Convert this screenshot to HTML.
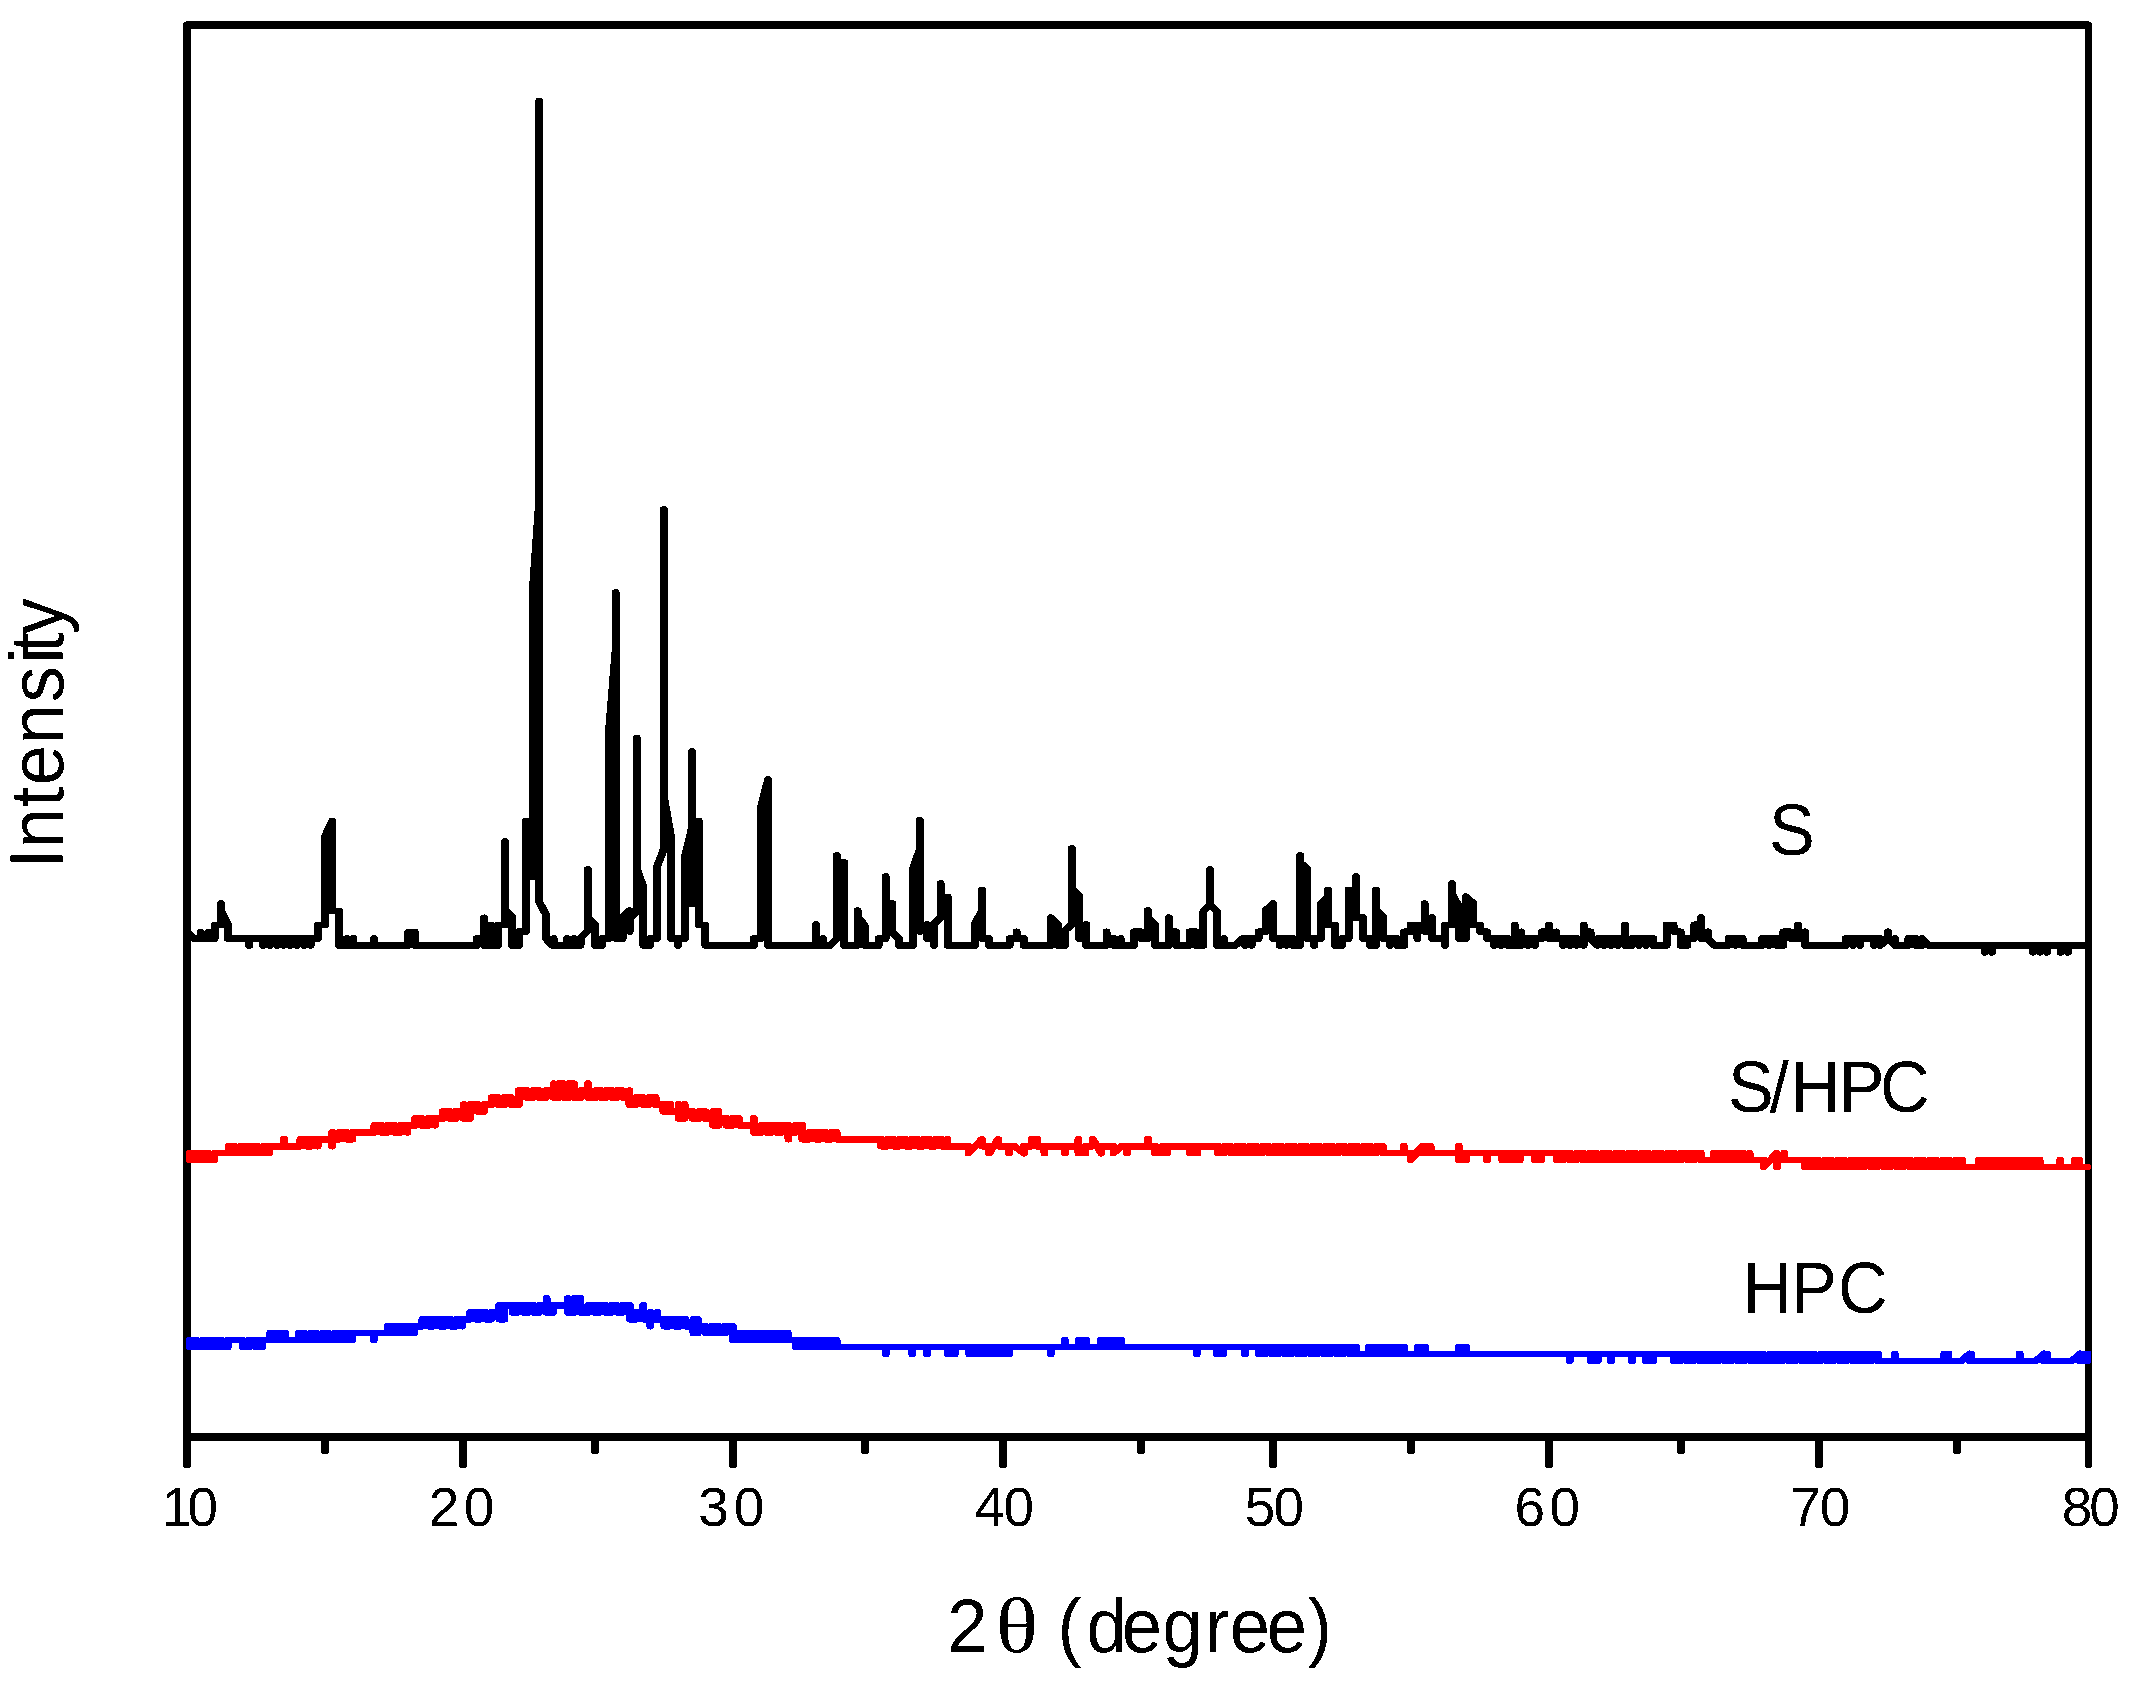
<!DOCTYPE html>
<html><head><meta charset="utf-8"><title>XRD patterns</title>
<style>
html,body{margin:0;padding:0;background:#fff}
svg{display:block}
text{font-family:"Liberation Sans",sans-serif;fill:#000;white-space:pre}
.sym{font-family:"Liberation Serif",serif}
</style></head>
<body>
<svg width="2131" height="1681" viewBox="0 0 2131 1681">
<defs><filter id="bw" filterUnits="userSpaceOnUse" x="0" y="0" width="2131" height="1681" color-interpolation-filters="sRGB"><feComponentTransfer><feFuncA type="discrete" tableValues="0 1"/></feComponentTransfer></filter></defs>
<rect width="2131" height="1681" fill="#fff"/>
<g fill="#000" shape-rendering="crispEdges">
<rect x="183" y="21" width="1909" height="8"/>
<rect x="183" y="1433" width="1909" height="8"/>
<rect x="183" y="21" width="8" height="1447" rx="2.5"/>
<rect x="2085" y="21" width="7" height="1447" rx="2.5"/>
<rect x="183" y="21" width="8" height="100"/>
<rect x="2085" y="21" width="7" height="100"/>
<path d="M183 21h3.4l-3.4 2.4zM2092 21h-3.4l3.4 2.4z" fill="#fff"/>
<rect x="459" y="1437" width="8" height="31" rx="2.5"/><rect x="729" y="1437" width="8" height="31" rx="2.5"/><rect x="999" y="1437" width="8" height="31" rx="2.5"/><rect x="1269" y="1437" width="8" height="31" rx="2.5"/><rect x="1545" y="1437" width="8" height="31" rx="2.5"/><rect x="1815" y="1437" width="8" height="31" rx="2.5"/><rect x="321" y="1437" width="8" height="17" rx="2.5"/><rect x="591" y="1437" width="8" height="17" rx="2.5"/><rect x="861" y="1437" width="8" height="17" rx="2.5"/><rect x="1137" y="1437" width="8" height="17" rx="2.5"/><rect x="1407" y="1437" width="8" height="17" rx="2.5"/><rect x="1677" y="1437" width="8" height="17" rx="2.5"/><rect x="1953" y="1437" width="8" height="17" rx="2.5"/>
</g>
<g transform="scale(1.185,1)" fill="none" stroke-width="6.75" stroke-linejoin="round" stroke-linecap="round" shape-rendering="crispEdges">
<polyline stroke="#000" points="157.8,931.9 163.4,938.5 169.4,938.5 169.4,932.2 169.4,938.5 175.7,938.5 175.7,932.2 175.7,938.5 181.1,938.5 181.1,925.1 186.6,925.1 186.6,903.7 186.6,910.4 192.3,924.4 192.3,938.5 207.7,938.5 210.3,938.5 210.3,945.4 210.3,938.5 222.2,938.5 222.2,945.4 222.2,938.5 227.9,938.5 227.9,945.4 227.9,938.5 233.6,938.5 233.6,945.4 233.6,938.5 239.3,938.5 239.3,945.4 239.3,938.5 245.0,938.5 245.0,945.4 245.0,938.5 250.7,938.5 250.7,945.4 250.7,938.5 256.4,938.5 256.4,945.4 256.4,938.5 262.1,938.5 262.1,945.4 262.1,938.5 268.3,938.5 268.3,925.1 274.3,925.1 274.3,836.5 280.3,821.0 280.3,911.1 286.3,911.1 286.3,945.4 292.7,945.4 292.7,938.5 292.7,945.4 298.3,945.4 298.3,938.5 298.3,945.4 315.6,945.4 315.6,938.5 315.6,945.4 344.5,945.4 344.5,932.2 350.1,932.2 350.1,945.4 399.5,945.4 402.4,945.4 402.4,938.5 408.6,938.5 408.6,917.8 408.6,945.4 414.6,945.4 414.6,924.9 414.6,945.4 420.3,945.4 420.3,924.9 426.2,924.9 426.2,841.4 426.2,909.7 432.1,916.7 432.1,945.4 438.1,945.4 438.1,931.5 443.8,931.5 443.8,821.0 449.4,876.6 449.4,595.5 455.1,500.0 455.1,101.0 455.1,901.9 460.9,915.0 460.9,938.9 466.0,945.4 467.2,945.4 467.2,938.5 467.2,945.4 478.5,945.4 478.5,938.5 478.5,945.4 484.2,945.4 484.2,938.5 484.2,945.4 489.9,945.4 489.9,937.8 496.1,930.8 496.1,869.5 496.1,917.4 502.2,924.4 502.2,945.4 507.9,945.4 507.9,938.5 513.8,938.5 513.8,733.0 519.5,651.0 519.5,592.5 519.5,938.5 525.4,938.5 525.4,917.4 531.3,910.6 531.3,931.5 531.3,918.8 537.3,911.8 537.3,738.0 537.3,868.8 543.0,887.1 543.0,945.4 548.6,945.4 548.6,938.5 554.5,938.5 554.5,866.7 560.2,849.1 560.2,509.5 560.2,796.3 566.4,837.9 566.4,938.5 572.1,938.5 572.1,945.4 572.1,938.5 577.9,938.5 577.9,857.6 583.9,828.0 583.9,751.7 583.9,904.0 589.6,821.0 589.6,925.1 595.3,925.1 595.3,945.4 636.1,945.4 636.1,938.5 642.1,938.5 642.1,807.6 648.2,779.5 648.2,945.4 688.6,945.4 688.6,924.4 688.6,945.4 694.6,945.4 694.6,938.5 694.6,945.4 700.5,945.4 706.2,938.5 706.2,855.5 706.2,862.5 712.4,862.5 712.4,945.4 723.7,945.4 723.7,910.6 723.7,917.4 729.6,924.9 729.6,945.4 741.5,945.4 741.5,938.5 747.4,938.5 747.4,876.6 747.4,903.6 753.0,903.6 753.0,932.2 758.7,938.9 758.7,945.4 770.4,945.4 770.4,868.8 776.3,849.1 776.3,820.3 776.3,931.5 782.2,924.4 782.2,938.5 788.2,938.5 788.2,945.4 788.2,923.7 793.8,917.4 793.8,883.6 793.8,897.0 799.7,897.0 799.7,945.4 822.6,945.4 822.6,923.7 828.6,911.1 828.6,890.0 828.6,938.5 834.5,938.5 834.5,945.4 852.0,945.4 852.0,938.5 857.9,938.5 857.9,931.8 857.9,938.5 863.9,938.5 863.9,945.4 886.9,945.4 886.9,917.7 892.6,924.4 892.6,945.4 898.5,945.4 898.5,930.8 904.5,924.4 904.5,848.4 904.5,888.5 910.7,896.3 910.7,938.5 916.6,938.5 916.6,924.4 916.6,945.4 933.8,945.4 933.8,931.8 933.8,938.5 939.8,938.5 939.8,945.4 945.7,945.4 945.7,938.5 945.7,945.4 957.0,945.4 957.0,931.8 962.9,931.8 962.9,938.5 968.6,938.5 968.6,910.6 968.6,917.4 974.8,924.4 974.8,945.4 986.3,945.4 986.3,917.7 986.3,931.8 992.4,931.8 992.4,945.4 1003.9,945.4 1003.9,931.8 1009.5,931.8 1009.5,945.4 1015.6,945.4 1015.6,911.1 1021.1,904.7 1021.1,869.5 1021.1,904.7 1027.1,911.4 1027.1,945.4 1033.0,945.4 1033.0,938.5 1033.0,945.4 1042.5,945.4 1048.5,938.5 1050.5,938.5 1050.5,945.4 1050.5,938.5 1056.2,938.5 1056.2,945.4 1056.2,938.5 1062.1,938.5 1062.1,931.8 1068.1,931.8 1068.1,910.4 1074.2,903.6 1074.2,938.5 1079.9,938.5 1079.9,945.4 1079.9,938.5 1085.7,938.5 1085.7,945.4 1085.7,938.5 1091.2,938.5 1091.2,945.4 1097.2,945.4 1097.2,855.5 1097.2,862.5 1103.1,869.1 1103.1,938.5 1109.1,938.5 1109.1,945.4 1109.1,938.5 1114.6,938.5 1114.6,904.0 1120.6,897.0 1120.6,890.0 1120.6,925.1 1126.5,925.1 1126.5,945.4 1132.4,945.4 1132.4,938.5 1138.0,938.5 1138.0,890.0 1144.2,890.0 1144.2,876.6 1144.2,918.1 1150.3,917.7 1150.3,938.5 1156.1,938.5 1156.1,945.4 1161.2,945.4 1161.2,890.0 1161.2,909.7 1167.1,916.7 1167.1,938.5 1173.1,938.5 1173.1,945.4 1173.1,938.5 1179.0,938.5 1179.0,945.4 1185.0,945.4 1185.0,931.8 1190.3,931.8 1190.3,924.9 1190.3,931.8 1196.2,931.8 1196.2,938.5 1196.2,924.9 1196.2,926.8 1202.2,926.8 1202.2,903.6 1202.2,931.5 1208.4,931.5 1208.4,917.7 1208.4,938.5 1214.1,938.5 1219.4,938.5 1219.4,945.4 1219.4,924.9 1225.4,924.9 1225.4,883.6 1225.4,894.2 1231.3,906.8 1231.3,938.5 1237.2,938.5 1237.2,896.7 1243.2,903.3 1243.2,925.1 1249.1,925.1 1249.1,931.8 1255.1,931.8 1255.1,938.5 1261.0,938.5 1261.0,945.4 1261.0,938.5 1266.7,938.5 1266.7,945.4 1266.7,938.5 1272.4,938.5 1272.4,945.4 1278.2,945.4 1278.2,924.9 1278.2,945.4 1283.8,945.4 1283.8,931.8 1283.8,938.5 1289.5,938.5 1289.5,945.4 1289.5,938.5 1295.2,938.5 1295.2,945.4 1295.2,938.5 1301.4,938.5 1301.4,931.8 1307.3,931.8 1307.3,924.9 1307.3,938.5 1313.3,938.5 1313.3,931.8 1313.3,938.5 1319.0,938.5 1319.0,945.4 1319.0,938.5 1324.7,938.5 1324.7,945.4 1324.7,938.5 1330.4,938.5 1330.4,945.4 1330.4,938.5 1336.4,945.4 1336.4,924.9 1336.4,931.8 1342.2,931.8 1342.2,938.5 1348.2,945.4 1348.2,938.5 1353.8,938.5 1353.8,945.4 1353.8,938.5 1359.5,938.5 1359.5,945.4 1359.5,938.5 1365.2,938.5 1365.2,945.4 1365.2,938.5 1371.3,938.5 1371.3,924.9 1371.3,945.4 1377.3,945.4 1377.3,938.5 1383.2,938.5 1383.2,945.4 1383.2,938.5 1389.2,938.5 1389.2,945.4 1389.2,938.5 1395.1,938.5 1395.1,945.4 1406.4,945.4 1406.4,924.9 1412.3,924.9 1412.3,931.5 1418.3,931.8 1418.3,945.4 1423.9,945.4 1423.9,938.5 1429.6,938.5 1429.6,924.9 1435.5,923.0 1435.5,917.7 1435.5,938.5 1441.4,938.5 1441.4,931.8 1441.4,939.2 1446.8,945.4 1458.7,945.4 1458.7,938.5 1464.6,938.5 1464.6,945.4 1464.6,938.5 1470.5,938.5 1470.5,945.4 1487.2,945.4 1487.2,938.5 1493.1,938.5 1493.1,945.4 1493.1,938.5 1499.1,938.5 1499.1,945.4 1505.0,945.4 1505.0,931.8 1511.2,931.8 1511.2,938.5 1517.1,938.5 1517.1,924.9 1517.1,938.5 1523.1,938.5 1523.1,931.8 1523.1,945.4 1554.7,945.4 1557.6,945.4 1557.6,938.5 1563.6,938.5 1563.6,945.4 1563.6,938.5 1569.5,938.5 1569.5,945.4 1569.5,938.5 1575.4,938.5 1581.4,938.5 1581.4,945.4 1581.4,938.5 1586.7,938.5 1586.7,945.4 1593.3,939.2 1593.3,931.8 1593.3,939.2 1599.2,945.4 1599.2,938.5 1599.2,945.4 1607.5,945.4 1610.5,945.4 1610.5,938.5 1616.4,938.5 1616.4,945.4 1621.8,945.4 1621.8,938.5 1627.1,945.4 1674.9,945.4 1674.9,952.3 1674.9,945.4 1680.8,945.4 1680.8,952.3 1680.8,945.4 1715.6,945.4 1715.6,952.3 1715.6,945.4 1721.6,945.4 1721.6,952.3 1721.6,945.4 1727.3,945.4 1727.3,952.3 1727.3,945.4 1739.0,945.4 1739.0,952.3 1739.0,945.4 1745.0,945.4 1745.0,952.3 1745.0,945.4 1760.8,945.4"/>
<polyline stroke="#f00" points="160.3,1160.0 160.3,1153.1 165.5,1153.1 165.5,1160.0 170.7,1160.0 170.7,1153.1 175.8,1153.1 175.8,1160.0 181.0,1160.0 181.0,1153.1 187.1,1153.1 193.2,1153.1 193.2,1146.2 198.1,1146.2 198.1,1153.1 202.9,1153.1 202.9,1146.2 207.7,1146.2 207.7,1153.1 212.5,1153.1 212.5,1146.2 217.4,1146.2 217.4,1153.1 222.2,1153.1 222.2,1146.2 227.0,1146.2 227.0,1153.1 227.0,1146.2 233.5,1146.2 239.6,1146.2 239.6,1139.2 239.6,1146.2 245.9,1146.2 246.8,1146.2 253.5,1146.2 253.5,1139.2 258.4,1139.2 258.4,1146.2 263.2,1146.2 263.2,1139.2 268.1,1139.2 268.1,1146.2 268.1,1139.2 274.4,1139.2 280.4,1139.2 280.4,1132.3 280.4,1146.2 280.4,1139.2 286.8,1139.2 286.8,1132.3 292.1,1132.3 292.1,1139.2 297.4,1139.2 297.4,1132.3 304.1,1132.3 309.3,1132.3 316.0,1132.3 316.0,1125.3 321.6,1125.3 321.6,1132.3 327.1,1132.3 327.1,1125.3 332.6,1125.3 332.6,1132.3 338.2,1132.3 338.2,1125.3 343.7,1125.3 343.7,1132.3 343.7,1125.3 350.5,1125.3 350.5,1118.4 356.0,1118.4 356.0,1125.3 361.5,1125.3 361.5,1118.4 367.1,1118.4 367.1,1125.3 367.1,1118.4 373.8,1118.4 373.8,1111.4 379.2,1111.4 379.2,1118.4 384.6,1118.4 384.6,1111.4 391.3,1111.4 391.3,1104.5 391.3,1118.4 396.5,1118.4 396.5,1104.5 403.2,1104.5 403.2,1111.4 408.3,1111.4 408.3,1104.5 415.0,1104.5 415.0,1097.5 420.4,1097.5 420.4,1104.5 425.8,1104.5 425.8,1097.5 431.2,1097.5 431.2,1104.5 437.8,1104.5 437.8,1090.6 444.4,1090.6 444.4,1097.5 449.8,1097.5 449.8,1090.6 455.2,1090.6 455.2,1097.5 460.6,1097.5 460.6,1090.6 467.3,1090.6 467.3,1083.7 467.3,1097.5 471.6,1097.5 471.6,1083.7 475.8,1083.7 475.8,1097.5 480.0,1097.5 480.0,1083.7 484.2,1083.7 484.2,1097.5 490.4,1097.5 490.4,1090.6 496.2,1090.6 496.2,1083.7 496.2,1097.5 502.5,1097.5 502.5,1090.6 507.1,1090.6 507.1,1097.5 511.7,1097.5 511.7,1090.6 516.3,1090.6 516.3,1097.5 520.8,1097.5 520.8,1090.6 525.4,1090.6 525.4,1097.5 531.2,1097.5 531.2,1090.6 531.2,1104.5 537.0,1104.5 537.0,1097.5 542.4,1097.5 542.4,1104.5 547.8,1104.5 547.8,1097.5 553.2,1097.5 553.2,1104.5 559.9,1104.5 559.9,1111.4 562.9,1111.4 562.9,1104.5 565.8,1104.5 565.8,1111.4 572.6,1111.4 572.6,1104.5 572.6,1118.4 577.7,1118.4 577.7,1104.5 577.7,1111.4 584.5,1111.4 584.5,1118.4 589.8,1118.4 589.8,1111.4 595.1,1111.4 595.1,1118.4 601.9,1118.4 601.9,1111.4 601.9,1125.3 606.2,1125.3 606.2,1111.4 606.2,1118.4 613.0,1118.4 613.0,1125.3 618.3,1125.3 618.3,1118.4 623.6,1118.4 623.6,1125.3 630.2,1125.3 636.1,1125.3 636.1,1118.4 636.1,1132.3 642.3,1132.3 642.3,1125.3 646.5,1125.3 646.5,1132.3 650.8,1132.3 650.8,1125.3 655.0,1125.3 655.0,1132.3 659.2,1132.3 659.2,1125.3 665.4,1125.3 665.4,1139.2 665.4,1132.3 671.1,1132.3 671.1,1125.3 677.1,1125.3 677.1,1139.2 683.5,1139.2 683.5,1132.3 688.0,1132.3 688.0,1139.2 692.5,1139.2 692.5,1132.3 697.0,1132.3 697.0,1139.2 701.5,1139.2 701.5,1132.3 706.0,1132.3 706.0,1139.2 712.7,1139.2 717.6,1139.2 722.4,1139.2 727.2,1139.2 732.1,1139.2 736.9,1139.2 743.6,1139.2 743.6,1146.2 748.7,1146.2 748.7,1139.2 753.8,1139.2 753.8,1146.2 758.9,1146.2 758.9,1139.2 763.9,1139.2 763.9,1146.2 769.0,1146.2 769.0,1139.2 774.1,1139.2 774.1,1146.2 779.2,1146.2 779.2,1139.2 784.3,1139.2 784.3,1146.2 789.3,1146.2 789.3,1139.2 794.4,1139.2 794.4,1146.2 799.5,1146.2 799.5,1139.2 799.5,1146.2 806.2,1146.2 811.0,1146.2 817.3,1146.2 817.3,1153.1 828.7,1139.2 828.7,1146.2 834.8,1146.2 834.8,1153.1 842.4,1139.2 842.4,1146.2 846.2,1146.2 851.5,1146.2 851.5,1153.1 851.5,1146.2 855.9,1146.2 864.1,1153.1 864.1,1146.2 870.5,1146.2 870.5,1139.2 875.1,1139.2 875.1,1146.2 881.4,1146.2 881.4,1153.1 881.4,1146.2 887.8,1146.2 892.6,1146.2 898.9,1146.2 898.9,1153.1 898.9,1146.2 904.5,1146.2 910.1,1146.2 910.1,1139.2 910.1,1153.1 916.0,1153.1 916.0,1146.2 922.2,1146.2 922.2,1139.2 929.3,1153.1 929.3,1146.2 933.3,1146.2 939.7,1146.2 939.7,1153.1 946.2,1146.2 951.1,1146.2 951.1,1153.1 951.1,1146.2 957.4,1146.2 962.4,1146.2 968.8,1146.2 968.8,1139.2 968.8,1146.2 974.7,1146.2 974.7,1153.1 981.0,1153.1 981.0,1146.2 984.8,1146.2 984.8,1153.1 984.8,1146.2 991.6,1146.2 994.5,1146.2 997.5,1146.2 1004.2,1146.2 1004.2,1153.1 1007.4,1153.1 1007.4,1146.2 1010.5,1146.2 1010.5,1153.1 1010.5,1146.2 1017.3,1146.2 1021.1,1146.2 1027.8,1146.2 1027.8,1153.1 1033.2,1153.1 1033.2,1146.2 1038.5,1146.2 1038.5,1153.1 1043.9,1153.1 1043.9,1146.2 1049.2,1146.2 1049.2,1153.1 1054.6,1153.1 1054.6,1146.2 1059.9,1146.2 1059.9,1153.1 1065.2,1153.1 1065.2,1146.2 1070.6,1146.2 1070.6,1153.1 1075.9,1153.1 1075.9,1146.2 1081.3,1146.2 1081.3,1153.1 1086.6,1153.1 1086.6,1146.2 1092.0,1146.2 1092.0,1153.1 1097.3,1153.1 1097.3,1146.2 1102.6,1146.2 1102.6,1153.1 1108.0,1153.1 1108.0,1146.2 1113.3,1146.2 1113.3,1153.1 1118.7,1153.1 1118.7,1146.2 1124.0,1146.2 1124.0,1153.1 1129.4,1153.1 1129.4,1146.2 1134.7,1146.2 1134.7,1153.1 1140.0,1153.1 1140.0,1146.2 1145.4,1146.2 1145.4,1153.1 1150.7,1153.1 1150.7,1146.2 1156.1,1146.2 1156.1,1153.1 1161.4,1153.1 1161.4,1146.2 1166.8,1146.2 1166.8,1153.1 1173.5,1153.1 1178.6,1153.1 1184.7,1153.1 1184.7,1146.2 1184.7,1153.1 1190.6,1153.1 1190.6,1160.0 1200.0,1146.2 1200.0,1153.1 1203.6,1153.1 1203.6,1146.2 1207.2,1146.2 1207.2,1153.1 1213.9,1153.1 1219.2,1153.1 1224.5,1153.1 1231.1,1153.1 1231.1,1146.2 1231.1,1160.0 1237.0,1160.0 1237.0,1153.1 1243.0,1153.1 1248.1,1153.1 1254.8,1153.1 1254.8,1160.0 1254.8,1153.1 1261.2,1153.1 1267.8,1153.1 1267.8,1160.0 1272.7,1160.0 1272.7,1153.1 1277.6,1153.1 1277.6,1160.0 1282.4,1160.0 1282.4,1153.1 1289.0,1153.1 1295.5,1153.1 1295.5,1160.0 1300.7,1160.0 1300.7,1153.1 1307.2,1153.1 1313.8,1153.1 1313.8,1160.0 1319.3,1160.0 1319.3,1153.1 1324.8,1153.1 1324.8,1160.0 1330.3,1160.0 1330.3,1153.1 1335.8,1153.1 1335.8,1160.0 1341.4,1160.0 1341.4,1153.1 1346.9,1153.1 1346.9,1160.0 1352.4,1160.0 1352.4,1153.1 1357.9,1153.1 1357.9,1160.0 1363.4,1160.0 1363.4,1153.1 1369.0,1153.1 1369.0,1160.0 1374.5,1160.0 1374.5,1153.1 1380.0,1153.1 1380.0,1160.0 1385.5,1160.0 1385.5,1153.1 1391.0,1153.1 1391.0,1160.0 1396.6,1160.0 1396.6,1153.1 1402.1,1153.1 1402.1,1160.0 1407.6,1160.0 1407.6,1153.1 1413.1,1153.1 1413.1,1160.0 1418.6,1160.0 1418.6,1153.1 1424.2,1153.1 1424.2,1160.0 1429.7,1160.0 1429.7,1153.1 1435.2,1153.1 1435.2,1160.0 1440.8,1160.0 1446.4,1160.0 1446.4,1153.1 1451.4,1153.1 1451.4,1160.0 1456.4,1160.0 1456.4,1153.1 1461.4,1153.1 1461.4,1160.0 1466.4,1160.0 1466.4,1153.1 1471.4,1153.1 1471.4,1160.0 1476.4,1160.0 1476.4,1153.1 1476.4,1160.0 1482.5,1160.0 1488.4,1160.0 1488.4,1167.0 1499.5,1153.1 1499.5,1167.0 1499.5,1160.0 1505.8,1160.0 1505.8,1153.1 1505.8,1160.0 1512.2,1160.0 1516.5,1160.0 1523.2,1160.0 1523.2,1167.0 1528.7,1167.0 1528.7,1160.0 1534.3,1160.0 1534.3,1167.0 1539.8,1167.0 1539.8,1160.0 1545.4,1160.0 1545.4,1167.0 1550.9,1167.0 1550.9,1160.0 1556.4,1160.0 1556.4,1167.0 1562.0,1167.0 1562.0,1160.0 1567.5,1160.0 1567.5,1167.0 1573.0,1167.0 1573.0,1160.0 1578.6,1160.0 1578.6,1167.0 1584.1,1167.0 1584.1,1160.0 1589.7,1160.0 1589.7,1167.0 1595.2,1167.0 1595.2,1160.0 1600.7,1160.0 1600.7,1167.0 1606.3,1167.0 1606.3,1160.0 1611.8,1160.0 1611.8,1167.0 1617.4,1167.0 1617.4,1160.0 1622.9,1160.0 1622.9,1167.0 1628.4,1167.0 1628.4,1160.0 1634.0,1160.0 1634.0,1167.0 1639.5,1167.0 1639.5,1160.0 1645.0,1160.0 1645.0,1167.0 1650.6,1167.0 1650.6,1160.0 1656.1,1160.0 1656.1,1167.0 1663.1,1167.0 1670.0,1167.0 1670.0,1160.0 1675.1,1160.0 1675.1,1167.0 1680.3,1167.0 1680.3,1160.0 1685.4,1160.0 1685.4,1167.0 1690.5,1167.0 1690.5,1160.0 1695.6,1160.0 1695.6,1167.0 1700.7,1167.0 1700.7,1160.0 1705.8,1160.0 1705.8,1167.0 1710.9,1167.0 1710.9,1160.0 1716.0,1160.0 1716.0,1167.0 1721.1,1167.0 1721.1,1160.0 1721.1,1167.0 1727.8,1167.0 1732.2,1167.0 1738.7,1167.0 1738.7,1160.0 1738.7,1167.0 1744.6,1167.0 1750.8,1167.0 1750.8,1160.0 1754.4,1160.0 1754.4,1167.0 1761.4,1167.0"/>
<polyline stroke="#00f" points="160.3,1347.0 160.3,1340.1 165.6,1340.1 165.6,1347.0 170.9,1347.0 170.9,1340.1 176.2,1340.1 176.2,1347.0 181.5,1347.0 181.5,1340.1 186.8,1340.1 186.8,1347.0 192.1,1347.0 192.1,1340.1 198.4,1340.1 204.7,1340.1 204.7,1347.0 210.3,1347.0 210.3,1340.1 215.8,1340.1 215.8,1347.0 221.4,1347.0 221.4,1340.1 228.1,1340.1 228.1,1333.1 232.2,1333.1 232.2,1340.1 236.3,1340.1 236.3,1333.1 240.4,1333.1 240.4,1340.1 246.2,1340.1 251.9,1340.1 251.9,1333.1 257.0,1333.1 257.0,1340.1 262.0,1340.1 262.0,1333.1 267.1,1333.1 267.1,1340.1 272.1,1340.1 272.1,1333.1 277.2,1333.1 277.2,1340.1 282.2,1340.1 282.2,1333.1 287.3,1333.1 287.3,1340.1 292.3,1340.1 292.3,1333.1 297.4,1333.1 297.4,1340.1 297.4,1333.1 304.1,1333.1 309.3,1333.1 315.4,1333.1 315.4,1340.1 315.4,1333.1 321.0,1333.1 327.2,1333.1 327.2,1326.2 331.7,1326.2 331.7,1333.1 336.2,1333.1 336.2,1326.2 340.7,1326.2 340.7,1333.1 345.2,1333.1 345.2,1326.2 349.7,1326.2 349.7,1333.1 349.7,1326.2 356.5,1326.2 356.5,1319.2 361.3,1319.2 361.3,1326.2 366.1,1326.2 366.1,1319.2 370.8,1319.2 370.8,1326.2 375.6,1326.2 375.6,1319.2 380.4,1319.2 380.4,1326.2 385.2,1326.2 385.2,1319.2 390.0,1319.2 390.0,1326.2 390.0,1319.2 396.8,1319.2 396.8,1312.3 401.2,1312.3 401.2,1319.2 405.7,1319.2 405.7,1312.3 410.1,1312.3 410.1,1319.2 414.6,1319.2 414.6,1312.3 421.4,1312.3 421.4,1305.3 421.4,1319.2 425.7,1319.2 425.7,1305.3 432.5,1305.3 432.5,1312.3 437.0,1312.3 437.0,1305.3 441.5,1305.3 441.5,1312.3 446.0,1312.3 446.0,1305.3 450.5,1305.3 450.5,1312.3 455.0,1312.3 455.0,1305.3 461.2,1305.3 461.2,1298.4 461.2,1312.3 466.8,1312.3 466.8,1305.3 472.7,1305.3 479.2,1305.3 479.2,1298.4 479.2,1312.3 484.5,1312.3 484.5,1298.4 489.8,1298.4 489.8,1312.3 496.5,1312.3 496.5,1305.3 501.4,1305.3 501.4,1312.3 506.2,1312.3 506.2,1305.3 511.0,1305.3 511.0,1312.3 515.8,1312.3 515.8,1305.3 520.6,1305.3 520.6,1312.3 525.4,1312.3 525.4,1305.3 531.6,1305.3 531.6,1319.2 537.1,1319.2 537.1,1312.3 542.8,1312.3 542.8,1305.3 542.8,1319.2 548.8,1319.2 548.8,1312.3 548.8,1326.2 548.8,1319.2 554.6,1319.2 554.6,1312.3 554.6,1319.2 560.7,1319.2 560.7,1326.2 565.1,1326.2 565.1,1319.2 569.6,1319.2 569.6,1326.2 574.0,1326.2 574.0,1319.2 578.5,1319.2 578.5,1326.2 585.2,1326.2 585.2,1319.2 585.2,1333.1 588.8,1333.1 588.8,1319.2 588.8,1326.2 595.5,1326.2 595.5,1333.1 601.0,1333.1 601.0,1326.2 606.4,1326.2 606.4,1333.1 611.8,1333.1 611.8,1326.2 618.3,1326.2 618.3,1340.1 624.8,1340.1 624.8,1333.1 629.8,1333.1 629.8,1340.1 634.8,1340.1 634.8,1333.1 639.8,1333.1 639.8,1340.1 644.8,1340.1 644.8,1333.1 649.8,1333.1 649.8,1340.1 654.8,1340.1 654.8,1333.1 659.8,1333.1 659.8,1340.1 664.8,1340.1 664.8,1333.1 664.8,1340.1 671.6,1340.1 671.6,1347.0 676.5,1347.0 676.5,1340.1 681.4,1340.1 681.4,1347.0 686.3,1347.0 686.3,1340.1 691.2,1340.1 691.2,1347.0 696.2,1347.0 696.2,1340.1 701.1,1340.1 701.1,1347.0 706.0,1347.0 706.0,1340.1 706.0,1347.0 712.7,1347.0 717.4,1347.0 722.1,1347.0 726.8,1347.0 731.5,1347.0 736.2,1347.0 740.8,1347.0 747.4,1347.0 747.4,1353.9 747.4,1347.0 753.9,1347.0 758.8,1347.0 763.7,1347.0 769.9,1347.0 769.9,1353.9 769.9,1347.0 775.9,1347.0 782.2,1347.0 782.2,1353.9 782.2,1347.0 788.8,1347.0 793.1,1347.0 799.8,1347.0 799.8,1353.9 802.8,1353.9 802.8,1347.0 805.7,1347.0 805.7,1353.9 805.7,1347.0 811.9,1347.0 818.0,1347.0 818.0,1353.9 822.8,1353.9 822.8,1347.0 827.6,1347.0 827.6,1353.9 832.4,1353.9 832.4,1347.0 837.2,1347.0 837.2,1353.9 842.0,1353.9 842.0,1347.0 846.8,1347.0 846.8,1353.9 851.6,1353.9 851.6,1347.0 858.4,1347.0 863.8,1347.0 869.3,1347.0 874.7,1347.0 880.2,1347.0 886.7,1347.0 886.7,1353.9 886.7,1347.0 892.6,1347.0 898.6,1347.0 898.6,1340.1 898.6,1347.0 904.5,1347.0 910.5,1347.0 910.5,1340.1 913.5,1340.1 913.5,1347.0 916.5,1347.0 916.5,1340.1 916.5,1347.0 922.7,1347.0 928.9,1347.0 928.9,1340.1 933.1,1340.1 933.1,1347.0 937.4,1347.0 937.4,1340.1 941.6,1340.1 941.6,1347.0 945.9,1347.0 945.9,1340.1 945.9,1347.0 952.7,1347.0 957.7,1347.0 962.7,1347.0 967.7,1347.0 972.8,1347.0 977.8,1347.0 982.8,1347.0 987.9,1347.0 992.9,1347.0 997.9,1347.0 1003.0,1347.0 1009.9,1347.0 1009.9,1353.9 1009.9,1347.0 1016.9,1347.0 1020.3,1347.0 1027.0,1347.0 1027.0,1353.9 1032.1,1353.9 1032.1,1347.0 1038.8,1347.0 1043.9,1347.0 1050.6,1347.0 1050.6,1353.9 1050.6,1347.0 1056.5,1347.0 1062.4,1347.0 1062.4,1353.9 1067.9,1353.9 1067.9,1347.0 1073.4,1347.0 1073.4,1353.9 1078.9,1353.9 1078.9,1347.0 1084.4,1347.0 1084.4,1353.9 1089.8,1353.9 1089.8,1347.0 1095.3,1347.0 1095.3,1353.9 1100.8,1353.9 1100.8,1347.0 1106.3,1347.0 1106.3,1353.9 1111.8,1353.9 1111.8,1347.0 1117.2,1347.0 1117.2,1353.9 1122.7,1353.9 1122.7,1347.0 1128.2,1347.0 1128.2,1353.9 1133.7,1353.9 1133.7,1347.0 1139.2,1347.0 1139.2,1353.9 1144.6,1353.9 1144.6,1347.0 1144.6,1353.9 1150.0,1353.9 1155.3,1353.9 1155.3,1347.0 1160.2,1347.0 1160.2,1353.9 1165.2,1353.9 1165.2,1347.0 1170.1,1347.0 1170.1,1353.9 1175.1,1353.9 1175.1,1347.0 1180.0,1347.0 1180.0,1353.9 1185.0,1353.9 1185.0,1347.0 1185.0,1353.9 1190.8,1353.9 1196.5,1353.9 1196.5,1347.0 1199.5,1347.0 1199.5,1353.9 1202.4,1353.9 1202.4,1347.0 1202.4,1353.9 1209.2,1353.9 1214.3,1353.9 1219.4,1353.9 1224.6,1353.9 1231.3,1353.9 1231.3,1347.0 1234.3,1347.0 1234.3,1353.9 1237.3,1353.9 1237.3,1347.0 1237.3,1353.9 1244.1,1353.9 1249.3,1353.9 1254.6,1353.9 1259.9,1353.9 1265.2,1353.9 1270.5,1353.9 1275.8,1353.9 1281.1,1353.9 1286.3,1353.9 1291.6,1353.9 1296.9,1353.9 1302.2,1353.9 1307.5,1353.9 1312.8,1353.9 1318.1,1353.9 1324.6,1353.9 1324.6,1360.9 1324.6,1353.9 1331.1,1353.9 1335.4,1353.9 1342.2,1353.9 1342.2,1360.9 1345.2,1360.9 1345.2,1353.9 1348.2,1353.9 1348.2,1360.9 1348.2,1353.9 1353.9,1353.9 1359.5,1353.9 1359.5,1360.9 1359.5,1353.9 1366.0,1353.9 1371.1,1353.9 1377.3,1353.9 1377.3,1360.9 1377.3,1353.9 1382.8,1353.9 1388.9,1353.9 1388.9,1360.9 1391.9,1360.9 1391.9,1353.9 1394.9,1353.9 1394.9,1360.9 1394.9,1353.9 1401.6,1353.9 1405.9,1353.9 1412.7,1353.9 1412.7,1360.9 1418.0,1360.9 1418.0,1353.9 1423.4,1353.9 1423.4,1360.9 1428.8,1360.9 1428.8,1353.9 1434.2,1353.9 1434.2,1360.9 1439.6,1360.9 1439.6,1353.9 1444.9,1353.9 1444.9,1360.9 1450.3,1360.9 1450.3,1353.9 1455.7,1353.9 1455.7,1360.9 1461.1,1360.9 1461.1,1353.9 1466.5,1353.9 1466.5,1360.9 1471.8,1360.9 1471.8,1353.9 1477.2,1353.9 1477.2,1360.9 1482.6,1360.9 1482.6,1353.9 1488.0,1353.9 1488.0,1360.9 1493.4,1360.9 1493.4,1353.9 1498.7,1353.9 1498.7,1360.9 1504.1,1360.9 1504.1,1353.9 1509.5,1353.9 1509.5,1360.9 1514.9,1360.9 1514.9,1353.9 1520.3,1353.9 1520.3,1360.9 1525.6,1360.9 1525.6,1353.9 1531.0,1353.9 1531.0,1360.9 1536.4,1360.9 1536.4,1353.9 1541.8,1353.9 1541.8,1360.9 1547.2,1360.9 1547.2,1353.9 1552.5,1353.9 1552.5,1360.9 1557.9,1360.9 1557.9,1353.9 1563.3,1353.9 1563.3,1360.9 1568.7,1360.9 1568.7,1353.9 1574.1,1353.9 1574.1,1360.9 1579.4,1360.9 1579.4,1353.9 1584.8,1353.9 1584.8,1360.9 1591.6,1360.9 1592.8,1360.9 1598.9,1360.9 1598.9,1353.9 1598.9,1360.9 1605.1,1360.9 1609.9,1360.9 1614.7,1360.9 1619.5,1360.9 1624.4,1360.9 1629.2,1360.9 1634.0,1360.9 1640.8,1360.9 1640.8,1353.9 1644.3,1353.9 1644.3,1360.9 1651.1,1360.9 1655.4,1360.9 1662.1,1353.9 1662.1,1360.9 1663.3,1360.9 1663.3,1353.9 1663.3,1360.9 1670.0,1360.9 1674.7,1360.9 1679.4,1360.9 1684.1,1360.9 1688.8,1360.9 1693.5,1360.9 1698.1,1360.9 1704.3,1360.9 1704.3,1353.9 1704.3,1360.9 1710.5,1360.9 1714.3,1360.9 1718.1,1360.9 1724.9,1353.9 1724.9,1360.9 1727.4,1360.9 1727.4,1353.9 1727.4,1360.9 1734.2,1360.9 1739.0,1360.9 1743.7,1360.9 1748.5,1360.9 1755.3,1353.9 1755.3,1360.9 1758.4,1360.9 1758.4,1353.9 1761.6,1353.9 1761.6,1360.9"/>
</g>
<g filter="url(#bw)">
<text transform="translate(0,1526.0) scale(0.9800,1)" x="164.80 191.43" y="0" font-size="56.0">10</text>
<text transform="translate(0,1526.0) scale(0.9800,1)" x="437.55 473.16" y="0" font-size="56.0">20</text>
<text transform="translate(0,1526.0) scale(0.9800,1)" x="712.45 748.78" y="0" font-size="56.0">30</text>
<text transform="translate(0,1526.0) scale(0.9800,1)" x="994.39 1024.08" y="0" font-size="56.0">40</text>
<text transform="translate(0,1526.0) scale(0.9800,1)" x="1270.10 1299.49" y="0" font-size="56.0">50</text>
<text transform="translate(0,1526.0) scale(0.9800,1)" x="1545.31 1581.02" y="0" font-size="56.0">60</text>
<text transform="translate(0,1526.0) scale(0.9800,1)" x="1827.14 1856.84" y="0" font-size="56.0">70</text>
<text transform="translate(0,1526.0) scale(0.9800,1)" x="2103.88 2131.84" y="0" font-size="56.0">80</text>
<text transform="translate(0,855.3) scale(0.9620,1)" x="1838.98" y="0" font-size="71.4">S</text>
<text transform="translate(0,1111.9) scale(0.9620,1)" x="1796.26 1839.71 1861.43 1911.33 1954.21" y="0" font-size="71.4">S/HPC</text>
<text transform="translate(0,1313.0) scale(0.9620,1)" x="1811.33 1861.75 1910.65" y="0" font-size="71.4">HPC</text>
<text transform="translate(62.9,868.8) rotate(-90) scale(0.9460,1)" x="0.00 21.58 65.47 88.18 131.51 176.01 217.02 228.52 247.85" y="0" font-size="76.5">Intensity</text>
<text transform="translate(0,1651.9) scale(0.9460,1)" x="1001.37" y="0" font-size="76.5">2</text>
<text class="sym" transform="translate(0,1652.1) scale(1.1280,1)" x="882.80" y="0" font-size="78.4">θ</text>
<text transform="translate(0,1651.9) scale(0.9460,1)" x="1099.37 1117.86 1148.41 1185.84 1228.75 1273.68 1299.89 1339.01 1382.35" y="0" font-size="76.5"> (degree)</text>

</g>
</svg>
</body></html>
